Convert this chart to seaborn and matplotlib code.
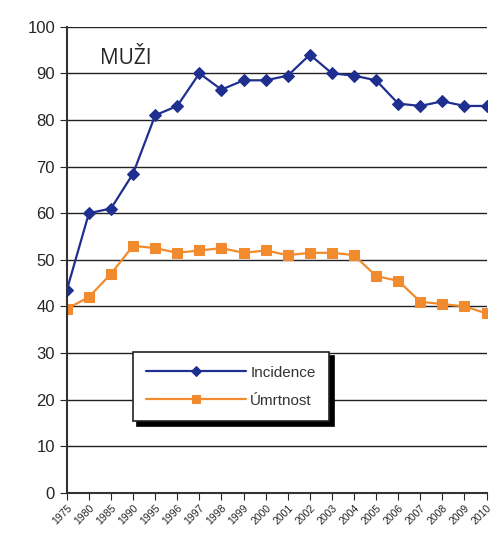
import numpy as np
import pandas as pd
import matplotlib
matplotlib.use("Agg")
import matplotlib.pyplot as plt
import seaborn as sns

years = ["1975", "1980", "1985", "1990", "1995", "1996", "1997", "1998", "1999", "2000",
         "2001", "2002", "2003", "2004", "2005", "2006", "2007", "2008", "2009", "2010"]
incidence = [43.5, 60, 61, 68.5, 81, 83, 90, 86.5, 88.5, 88.5,
             89.5, 94, 90, 89.5, 88.5, 83.5, 83, 84, 83, 83]
umrtnost = [39.5, 42, 47, 53, 52.5, 51.5, 52, 52.5, 51.5, 52,
            51, 51.5, 51.5, 51, 46.5, 45.5, 41, 40.5, 40, 38.5]

sns.set_style("white")
plt.rcParams['font.family'] = ['Liberation Sans', 'DejaVu Sans']

df = pd.DataFrame({"x": np.arange(len(years)), "Incidence": incidence, "Úmrtnost": umrtnost})

fig = plt.figure(figsize=(4.95, 5.34), dpi=100)
ax = fig.add_axes([0.135, 0.077, 0.848, 0.873])

for y in range(10, 101, 10):
    ax.axhline(y, color="#222222", lw=1.0, zorder=0)

sns.lineplot(data=df, x="x", y="Incidence", ax=ax, color="#1f2f8f", marker="D",
             markersize=6.5, lw=1.6, markeredgecolor="#1f2f8f", label="Incidence")
sns.lineplot(data=df, x="x", y="Úmrtnost", ax=ax, color="#f28a2e", marker="s",
             markersize=6.5, lw=1.6, markeredgecolor="#f28a2e", label="Úmrtnost")

ax.set_xlim(0, len(years) - 1)
ax.set_ylim(0, 100)
ax.set_yticks(range(0, 101, 10))
ax.set_xticks(np.arange(len(years)))
ax.set_xticklabels(years, rotation=45, ha="right", fontsize=7.5, rotation_mode="anchor")
ax.tick_params(axis="y", labelsize=12, length=5, direction="out", left=True)
ax.tick_params(axis="x", length=5, direction="out", bottom=True, pad=2)
ax.set_xlabel("")
ax.set_ylabel("")
for s in ["top", "right"]:
    ax.spines[s].set_visible(False)
ax.spines["left"].set_color("#333333")
ax.spines["bottom"].set_color("#333333")
ax.spines["left"].set_linewidth(1.5)
ax.spines["bottom"].set_linewidth(1.5)

ax.text(0.08, 0.955, "MUŽI", transform=ax.transAxes, fontsize=15, va="top",
        family=["Open Sans", "DejaVu Sans"])

leg = ax.legend(loc="upper left", bbox_to_anchor=(0.157, 0.302), fontsize=11,
                frameon=True, fancybox=False,
                shadow={"color": "black", "alpha": 1.0, "ox": 3, "oy": -3},
                borderpad=0.9, borderaxespad=0, markerscale=0.8,
                handlelength=6.5, handletextpad=0.3, labelspacing=0.9,
                edgecolor="#222222", framealpha=1)
leg.get_frame().set_linewidth(1.2)
for t in leg.get_texts():
    t.set_color("#333333")

fig.savefig("out.png", dpi=100)
